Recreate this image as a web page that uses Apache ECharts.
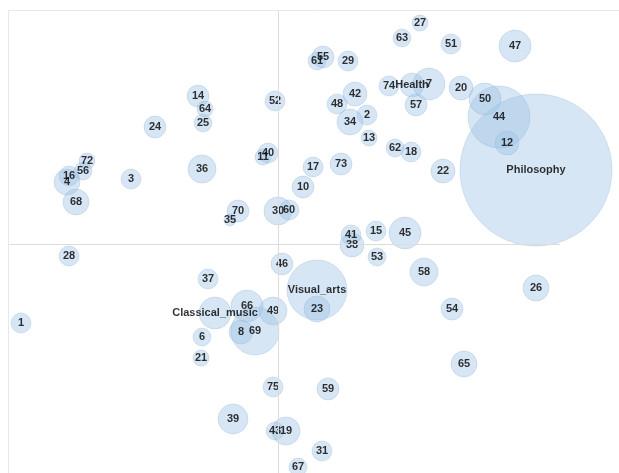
<!DOCTYPE html>
<html>
<head>
<meta charset="utf-8">
<script src="https://cdn.jsdelivr.net/npm/echarts@6/dist/echarts.min.js"></script>
<style>html,body{margin:0;padding:0;background:#fff}#c{width:619px;height:473px}</style>
</head>
<body>
<div id="c"></div>
<script>
// Labels of the points (topics and numbered items)
const labels = ["Philosophy","Visual_arts","Classical_music","Health",
 "1","2","3","4","6","7","8","10","11","12","13","14","15","16","17","18","19","20",
 "21","22","23","24","25","26","27","28","29","30","31","34","35","36","37","38","39","40",
 "41","42","43","44","45","46","47","48","49","50","51","52","53","54","55","56","57","58",
 "59","60","61","62","63","64","65","66","67","68","69","70","72","73","74","75"];
// First dimension
const dim1 = [2.58,0.39,-0.63,1.34,
 -2.57,0.89,-1.47,-2.11,-0.76,1.51,-0.37,0.25,-0.15,2.29,0.91,-0.80,0.98,-2.09,0.35,1.33,0.08,1.83,
 -0.77,1.65,0.39,-1.23,-0.75,2.58,1.42,-2.09,0.70,0.00,0.44,0.72,-0.48,-0.76,-0.70,0.74,-0.45,-0.10,
 0.73,0.77,-0.03,2.21,1.27,0.04,2.37,0.59,-0.05,2.07,1.73,-0.03,0.99,1.74,0.45,-1.95,1.38,1.46,
 0.50,0.11,0.39,1.17,1.24,-0.73,1.86,-0.31,0.20,-2.02,-0.23,-0.40,-1.91,0.63,1.11,-0.05];
// Second dimension
const dim2 = [0.74,-0.46,-0.69,1.59,
 -0.79,1.29,0.65,0.62,-0.93,1.60,-0.88,0.57,0.87,1.01,1.06,1.48,0.13,0.68,0.77,0.92,-1.87,1.56,
 -1.14,0.73,-0.65,1.17,1.21,-0.44,2.21,-0.12,1.83,0.33,-2.07,1.22,0.24,0.75,-0.35,-0.01,-1.75,0.91,
 0.09,1.50,-1.87,1.27,0.11,-0.20,1.98,1.40,-0.67,1.45,2.00,1.43,-0.13,-0.65,1.87,0.73,1.39,-0.28,
 -1.45,0.34,1.83,0.96,2.06,1.35,-1.20,-0.62,-2.23,0.42,-0.87,0.33,0.83,0.80,1.58,-1.43];
// Weight (bubble magnitude)
const weight = [1444,225,64,36,
 25,25,25,42,20,64,36,30,16,36,16,30,25,25,25,25,49,36,
 16,36,42,30,20,42,16,25,25,49,25,42,9,49,25,36,56,25,
 25,36,20,240,64,30,64,25,49,64,25,25,20,30,30,20,30,49,
 30,25,20,20,20,16,42,64,20,42,144,30,16,30,25,25];

const X_MIN = -2.70, X_MAX = 3.41, Y_MIN = -2.29, Y_MAX = 2.34;
const data = labels.map((n,i)=>({name:n, value:[dim1[i],dim2[i],weight[i]]}));

const chart = echarts.init(document.getElementById('c'), null, {renderer:'canvas'});
chart.setOption({
  animation:false,
  grid:{left:8, top:10, right:0, bottom:0, show:false},
  xAxis:{type:'value', min:X_MIN, max:X_MAX, axisLine:{show:false}, axisTick:{show:false}, axisLabel:{show:false}, splitLine:{show:false}},
  yAxis:{type:'value', min:Y_MIN, max:Y_MAX, axisLine:{show:false}, axisTick:{show:false}, axisLabel:{show:false}, splitLine:{show:false}},
  series:[{
    type:'scatter',
    data:data,
    symbolSize: v => Math.sqrt(v[2])*4,
    itemStyle:{color:'rgba(158,194,228,0.52)', borderColor:'rgba(130,170,210,0.35)', borderWidth:1},
    label:{show:true, position:'inside', formatter:'{b}', fontSize:11, fontWeight:'bold',
      fontFamily:'Liberation Sans, Arial, sans-serif', color:'#000'},
    emphasis:{disabled:true},
    markLine:{
      silent:true, symbol:'none', label:{show:false},
      lineStyle:{color:'#dcdcdc', width:1, type:'solid'},
      data:[
        [{coord:[X_MIN,0]},{coord:[2.82,0]}],
        [{coord:[0,Y_MIN]},{coord:[0,Y_MAX]}],
        [{coord:[X_MIN,Y_MAX],lineStyle:{color:'#e8e8e8'}},{coord:[X_MAX,Y_MAX]}],
        [{coord:[X_MIN,Y_MIN],lineStyle:{color:'#e8e8e8'}},{coord:[X_MIN,Y_MAX]}]
      ]
    },
    z:2
  }]
});
</script>
</body>
</html>
